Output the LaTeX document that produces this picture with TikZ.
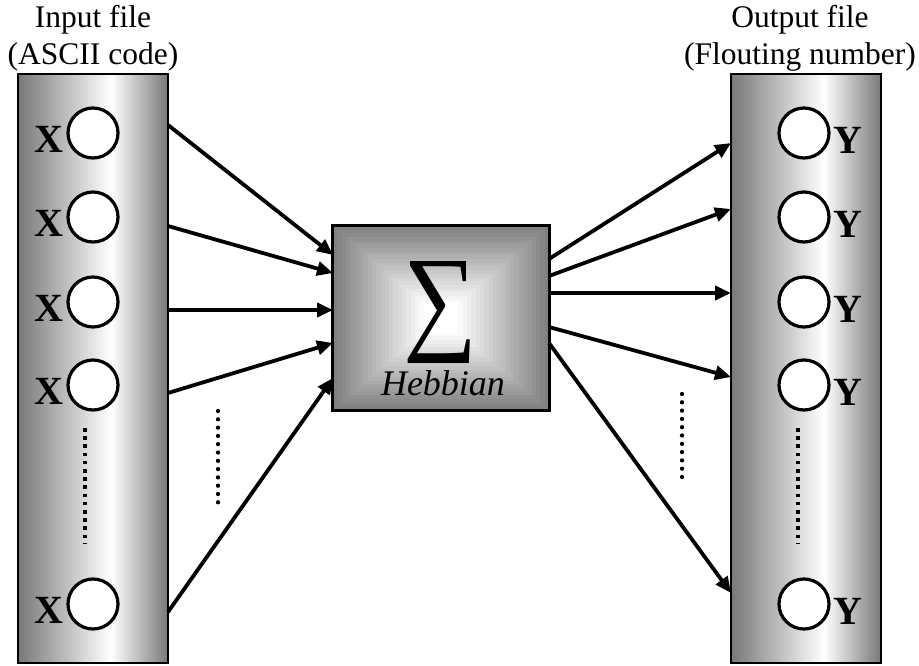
\documentclass[tikz,border=0pt]{standalone}
\usepackage{fontspec}
\setmainfont{Liberation Serif}
\usepackage{graphicx}
\usetikzlibrary{arrows.meta}
\definecolor{colgray}{gray}{0.47}
\definecolor{hubgray}{gray}{0.5}
\pgfdeclarehorizontalshading{colshade}{100bp}{color(0bp)=(colgray); color(25bp)=(colgray); color(56bp)=(white); color(75bp)=(colgray); color(100bp)=(colgray)}
\begin{document}
\begin{tikzpicture}[x=1pt,y=-1pt,
  colbox/.style={draw, line width=2.8pt, minimum width=150pt, minimum height=589pt, inner sep=0pt, shading=colshade},
  unit/.style={circle, draw, line width=3.2pt, fill=white, minimum size=50pt, inner sep=0pt},
  lbl/.style={font=\bfseries\fontsize{40}{40}\selectfont, inner sep=0pt},
  ttl/.style={font=\fontsize{31.5}{37}\selectfont, anchor=base, inner sep=0pt},
  conn/.style={line width=3.8pt, -{Triangle[length=16pt,width=14pt]}},
  sqdots/.style={line width=4pt, dash pattern=on 3.6pt off 4.6pt},
  rdots/.style={line width=4.3pt, line cap=round, dash pattern=on 0pt off 8.3pt}]
\useasboundingbox (0,0) rectangle (919,666);

% titles
\node[ttl] (in1) at (93,28) {Input file};
\node[ttl] (in2) at (93,65) {(ASCII code)};
\node[ttl] (out1) at (800,28) {Output file};
\node[ttl] (out2) at (800,65) {(Flouting number)};

% columns
\node[colbox] (incol) at (93,368.5) {};
\node[colbox] (outcol) at (806,368.5) {};

% units
\foreach \r/\yy in {1/133,2/217,3/302,4/385,5/604} {
  \node[unit] (x\r) at (93,\yy) {};
  \node[lbl] (xl\r) at (48.5,\yy+6) {X};
  \node[unit] (y\r) at (804,\yy) {};
  \node[lbl] (yl\r) at (848,\yy+7) {Y};
}

% dotted ellipses
\coordinate (ld1) at (85,428); \coordinate (ld2) at (85,543);
\coordinate (rd1) at (798,428); \coordinate (rd2) at (798,543);
\coordinate (md1) at (218,411); \coordinate (md2) at (218,510);
\coordinate (nd1) at (682,394); \coordinate (nd2) at (682,477);
\draw[sqdots] (ld1) -- (ld2);
\draw[sqdots] (rd1) -- (rd2);
\draw[rdots] (md1) -- (md2);
\draw[rdots] (nd1) -- (nd2);

% hub
\node[minimum width=216pt, minimum height=184pt, inner sep=0pt] (hub) at (441,318) {};
\foreach \i in {0,...,24} {
  \pgfmathtruncatemacro\p{min(100,\i*4.8)}
  \pgfmathsetmacro\hw{108*(1-\i/25)}
  \pgfmathsetmacro\hh{92*(1-\i/25)}
  \fill[white!\p!hubgray] (hub.center) ++(-\hw,-\hh) rectangle ++(2*\hw,2*\hh);
}
\draw[line width=2.8pt] (hub.north west) rectangle (hub.south east);
\node[inner sep=0pt] (sig) at (441,313) {\resizebox*{74pt}{102pt}{∑}};
\node[font=\itshape\fontsize{36}{36}\selectfont, anchor=base, inner sep=0pt] (heb) at (443,395) {Hebbian};

% input connectors
\coordinate (a1) at (168,125); \coordinate (b1) at (333,255);
\coordinate (a2) at (168,226); \coordinate (b2) at (333,273);
\coordinate (a3) at (168,310); \coordinate (b3) at (333,310);
\coordinate (a4) at (168,393); \coordinate (b4) at (333,343);
\coordinate (a5) at (168,612); \coordinate (b5) at (333,378);
\foreach \k in {1,...,5} \draw[conn] (a\k) -- (b\k);

% output connectors
\coordinate (c1) at (549,259); \coordinate (d1) at (731,143);
\coordinate (c2) at (549,276); \coordinate (d2) at (731,209);
\coordinate (c3) at (549,293); \coordinate (d3) at (731,293);
\coordinate (c4) at (549,327); \coordinate (d4) at (731,377);
\coordinate (c5) at (549,343); \coordinate (d5) at (731,593);
\foreach \k in {1,...,5} \draw[conn] (c\k) -- (d\k);
\end{tikzpicture}
\end{document}
